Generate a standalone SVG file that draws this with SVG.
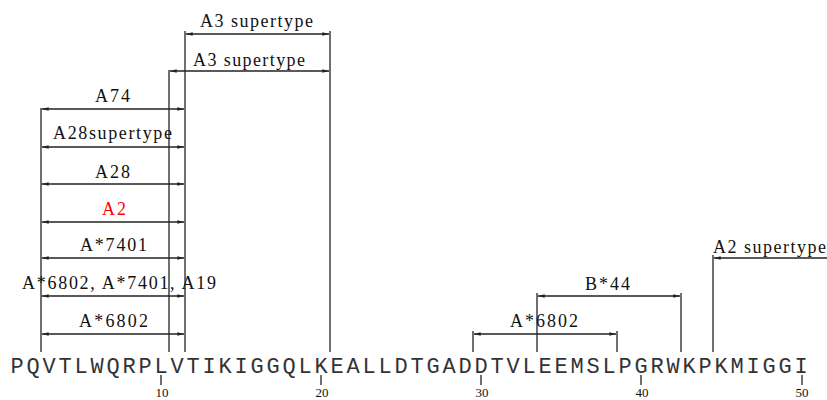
<svg xmlns="http://www.w3.org/2000/svg" width="827" height="400" viewBox="0 0 827 400">
<style>
.ln{stroke:#222;stroke-width:1.3;fill:none}
.ar{stroke:#222;stroke-width:1.3;fill:none;marker-start:url(#ah);marker-end:url(#ah)}
.ar1{stroke:#222;stroke-width:1.3;fill:none;marker-start:url(#ah)}
.lb{font-family:"Liberation Serif",serif;font-size:18px;fill:#111}
.seq{font-family:"Liberation Mono",monospace;font-size:22px;fill:#333;letter-spacing:2.8px}
.num{font-family:"Liberation Serif",serif;font-size:13px;fill:#111;text-anchor:middle}
</style>
<defs>
<marker id="ah" viewBox="0 0 10 6" refX="10" refY="3" markerWidth="9" markerHeight="4" markerUnits="userSpaceOnUse" orient="auto-start-reverse">
<path d="M0,0.5 L10,3 L0,5.5 z" fill="#222"/>
</marker>
</defs>
<rect width="827" height="400" fill="#fff"/>
<g id="connectors">
<line class="ln" x1="41" y1="108" x2="41" y2="352"/>
<line class="ln" x1="169" y1="70" x2="169" y2="352"/>
<line class="ln" x1="185" y1="31" x2="185" y2="352"/>
<line class="ln" x1="330" y1="31" x2="330" y2="352"/>
<line class="ln" x1="473" y1="331" x2="473" y2="352"/>
<line class="ln" x1="537" y1="293" x2="537" y2="352"/>
<line class="ln" x1="617" y1="331" x2="617" y2="352"/>
<line class="ln" x1="681" y1="293" x2="681" y2="352"/>
<line class="ln" x1="713" y1="255" x2="713" y2="352"/>
<line class="ln" x1="161" y1="375" x2="161" y2="385"/>
<line class="ln" x1="321" y1="375" x2="321" y2="385"/>
<line class="ln" x1="481" y1="375" x2="481" y2="385"/>
<line class="ln" x1="641" y1="375" x2="641" y2="385"/>
<line class="ln" x1="802" y1="375" x2="802" y2="385"/>
</g>
<g id="a3-supertype-1"><line class="ar" x1="186" y1="34" x2="329" y2="34"/><text class="lb" x="200" y="27" textLength="113">A3 supertype</text></g>
<g id="a3-supertype-2"><line class="ar" x1="170" y1="71" x2="329" y2="71"/><text class="lb" x="193" y="65.5" textLength="112">A3 supertype</text></g>
<g id="a74"><line class="ar" x1="42" y1="109" x2="184" y2="109"/><text class="lb" x="95" y="101.5" textLength="35">A74</text></g>
<g id="a28supertype"><line class="ar" x1="42" y1="147" x2="184" y2="147"/><text class="lb" x="53" y="139.3" textLength="119">A28supertype</text></g>
<g id="a28"><line class="ar" x1="42" y1="184" x2="184" y2="184"/><text class="lb" x="95" y="177.7" textLength="35">A28</text></g>
<g id="a2"><line class="ar" x1="42" y1="222" x2="184" y2="222"/><text class="lb" x="102" y="215" textLength="24" style="fill:#f00">A2</text></g>
<g id="a7401"><line class="ar" x1="42" y1="258" x2="184" y2="258"/><text class="lb" x="80" y="250.5" textLength="67">A*7401</text></g>
<g id="a6802-a7401-a19"><line class="ar" x1="42" y1="296" x2="184" y2="296"/><text class="lb" x="22" y="288.5" textLength="194">A*6802, A*7401, A19</text></g>
<g id="a6802-left"><line class="ar" x1="42" y1="334" x2="184" y2="334"/><text class="lb" x="79" y="327.3" textLength="69">A*6802</text></g>
<g id="b44"><line class="ar" x1="538" y1="296" x2="680" y2="296"/><text class="lb" x="585" y="289.5" textLength="45">B*44</text></g>
<g id="a6802-right"><line class="ar" x1="474" y1="334" x2="616" y2="334"/><text class="lb" x="510" y="327" textLength="68">A*6802</text></g>
<g id="a2-supertype"><line class="ar1" x1="714" y1="258" x2="827" y2="258"/><text class="lb" x="713" y="252.5" textLength="113">A2 supertype</text></g>
<g id="sequence">
<text class="seq" x="10.4" y="372.5">PQVTLWQRPLVTIKIGGQLKEALLDTGADDTVLEEMSLPGRWKPKMIGGI</text>
<text class="num" x="162" y="396.5">10</text>
<text class="num" x="322" y="396.5">20</text>
<text class="num" x="482" y="396.5">30</text>
<text class="num" x="642" y="396.5">40</text>
<text class="num" x="802" y="396.5">50</text>
</g>
</svg>
